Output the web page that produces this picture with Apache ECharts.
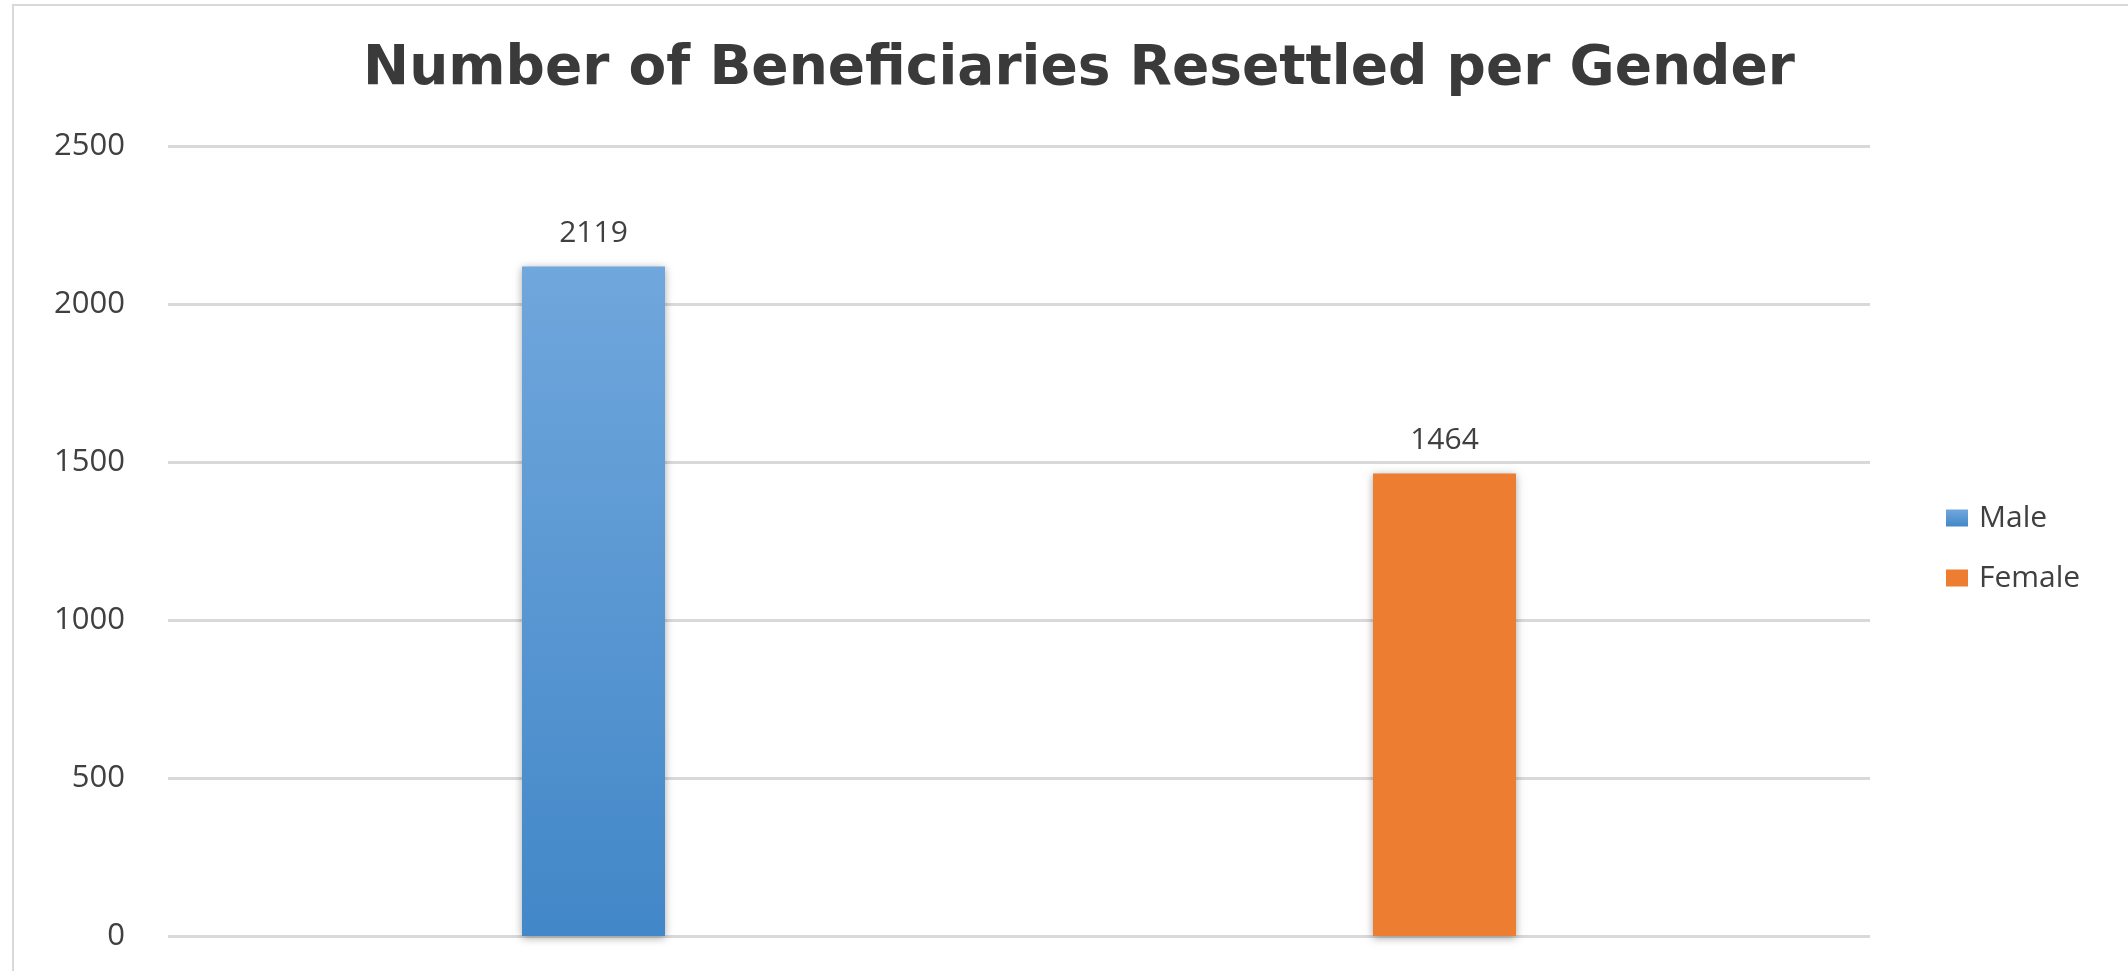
<!DOCTYPE html>
<html>
<head>
<meta charset="utf-8">
<title>Number of Beneficiaries Resettled per Gender</title>
<script src="https://cdn.jsdelivr.net/npm/echarts@6/dist/echarts.min.js"></script>
<style>
  html, body { margin: 0; padding: 0; background: #fff; }
  #chart { width: 2128px; height: 971px; }
</style>
</head>
<body>
<div id="chart"></div>
<script>
// data
const categories = ["Male", "Female"];
const maleValues = [2119, "-"];
const femaleValues = ["-", 1464];
const yTicks = [0, 500, 1000, 1500, 2000, 2500];

const chart = echarts.init(document.getElementById("chart"));
const fontFamily = "'Open Sans', 'DejaVu Sans', sans-serif";

// shared bar look (excel-ish soft shadow)
function barSeries(name, data, color) {
  return {
    name: name,
    type: "bar",
    stack: "g", // keeps each bar centred in its own slot
    data: data,
    barWidth: 143,
    itemStyle: {
      color: color,
      shadowBlur: 8,
      shadowColor: "rgba(0,0,0,0.35)",
      shadowOffsetY: 2,
    },
    label: {
      show: true,
      position: "top",
      distance: 18,
      fontFamily: fontFamily,
      fontSize: 30,
      color: "#404040",
    },
  };
}

const option = {
  animation: false,
  backgroundColor: "#fff",
  title: {
    text: "Number of Beneficiaries Resettled per Gender",
    left: 1074,
    textAlign: "center",
    top: 37,
    textStyle: {
      fontFamily: "'DejaVu Sans', sans-serif",
      fontWeight: "bold",
      fontSize: 55,
      color: "#3a3a3a",
    },
  },
  graphic: [
    {
      type: "rect",
      silent: true,
      z: -1,
      shape: { x: 13, y: 5, width: 2200, height: 1100 },
      style: { fill: "none", stroke: "#d9d9d9", lineWidth: 2 },
    },
  ],
  legend: {
    orient: "vertical",
    left: 1941,
    top: 498,
    itemWidth: 22,
    itemHeight: 17,
    itemGap: 30,
    icon: "rect",
    textStyle: {
      fontFamily: fontFamily,
      fontSize: 30,
      color: "#404040",
      padding: [0, 0, 0, 6],
    },
    data: categories,
  },
  grid: {
    left: 168,
    right: 258,
    top: 146,
    bottom: 35,
    containLabel: false,
  },
  xAxis: {
    type: "category",
    data: categories,
    axisLine: { show: false },
    axisTick: { show: false },
    axisLabel: { show: false },
    splitLine: { show: false },
  },
  yAxis: {
    type: "value",
    min: yTicks[0],
    max: yTicks[yTicks.length - 1],
    interval: yTicks[1] - yTicks[0],
    axisLine: { show: false },
    axisTick: { show: false },
    axisLabel: {
      margin: 43,
      formatter: (v) => String(v),
      fontFamily: fontFamily,
      fontSize: 31,
      color: "#404040",
    },
    splitLine: {
      lineStyle: { color: "#d9d9d9", width: 3 },
    },
  },
  series: [
    barSeries(categories[0], maleValues, {
      type: "linear", x: 0, y: 0, x2: 0, y2: 1,
      colorStops: [
        { offset: 0, color: "#70a7dc" },
        { offset: 1, color: "#4287c8" },
      ],
    }),
    barSeries(categories[1], femaleValues, "#ed7d31"),
  ],
};

chart.setOption(option);
window.onresize = chart.resize;
</script>
</body>
</html>
